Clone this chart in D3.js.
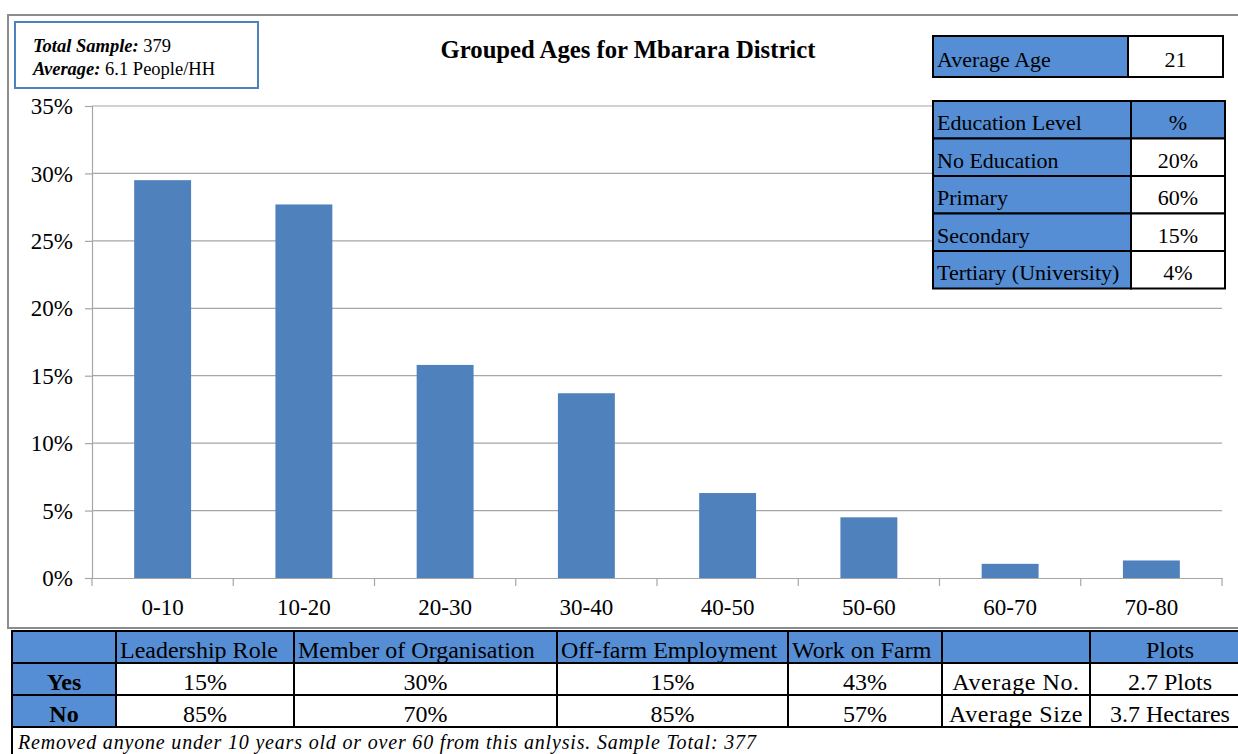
<!DOCTYPE html>
<html><head><meta charset="utf-8">
<script src="https://cdn.jsdelivr.net/npm/d3@7"></script>
<style>
html,body{margin:0;padding:0;background:#fff;}
svg text{font-family:"Liberation Serif","Times New Roman",serif;fill:#000;}
</style></head>
<body><svg id="c" width="1238" height="754"></svg>
<script>
// ---- data ----
const ageGroups = ["0-10","10-20","20-30","30-40","40-50","50-60","60-70","70-80"];
const agePercents = [29.5, 27.7, 15.8, 13.7, 6.3, 4.5, 1.05, 1.3];
const yTicks = [0,5,10,15,20,25,30,35];
const title = "Grouped Ages for Mbarara District";
const sampleInfo = [["Total Sample:", " 379"], ["Average:", " 6.1 People/HH"]];
const averageAge = ["Average Age", "21"];
const educationHeader = ["Education Level", "%"];
const educationLevels = ["No Education","Primary","Secondary","Tertiary (University)"];
const educationPercents = ["20%","60%","15%","4%"];
const tableHeaders = ["", "Leadership Role", "Member of Organisation", "Off-farm Employment", "Work on Farm", "", "Plots"];
const yesRow = ["Yes","15%","30%","15%","43%","Average No.","2.7 Plots"];
const noRow = ["No","85%","70%","85%","57%","Average Size","3.7 Hectares"];
const footnote = "Removed anyone under 10 years old or over 60 from this anlysis. Sample Total: 377";

const BLUE = "#558ED5", BAR = "#4F81BD", GRID = "#A6A6A6";
const FONT = "Liberation Serif";
const svg = d3.select("#c");

// chart frame
svg.append("rect").attr("x",8).attr("y",15).attr("width",1240).attr("height",613)
  .attr("fill","#fff").attr("stroke","#8C8C8C").attr("stroke-width",2);

// scales
const x = d3.scaleBand().domain(ageGroups).range([92,1222]).paddingInner(0.597).paddingOuter(0.2985);
const y = d3.scaleLinear().domain([0,35]).range([578,106]);

// gridlines
svg.append("g").selectAll("line").data(yTicks.filter(d=>d>0)).join("line")
  .attr("x1",92).attr("x2",1222).attr("y1",d=>y(d)).attr("y2",d=>y(d))
  .attr("stroke",GRID).attr("stroke-width",1.2);

// bars
svg.append("g").selectAll("rect").data(agePercents).join("rect")
  .attr("x",(d,i)=>x(ageGroups[i])).attr("width",x.bandwidth())
  .attr("y",d=>y(d)).attr("height",d=>y(0)-y(d)).attr("fill",BAR);

// y axis
const yAxis = svg.append("g").attr("transform","translate(92,0)")
  .call(d3.axisLeft(y).tickValues(yTicks).tickSize(7).tickPadding(12).tickFormat(d=>d+"%"));
yAxis.selectAll("path,line").attr("stroke",GRID).attr("stroke-width",1.2);
yAxis.selectAll("text").attr("font-size",23).attr("font-family",FONT).attr("dy","0.33em");

// x axis
const xAxis = svg.append("g").attr("transform","translate(0,578)")
  .call(d3.axisBottom(x).tickSize(0).tickPadding(21));
xAxis.select("path").attr("stroke",GRID).attr("stroke-width",1.2);
xAxis.selectAll("text").attr("font-size",23).attr("font-family",FONT);
// boundary ticks between categories
const bounds = ageGroups.map(g=>x(g) - (x.step()-x.bandwidth())/2).concat([1222]);
svg.append("g").selectAll("line").data(bounds).join("line")
  .attr("x1",d=>d).attr("x2",d=>d).attr("y1",578).attr("y2",586)
  .attr("stroke",GRID).attr("stroke-width",1.2);

// title
svg.append("text").attr("x",628).attr("y",58).attr("text-anchor","middle")
  .attr("font-size",24.7).attr("font-weight","bold").text(title);

// sample info box
svg.append("rect").attr("x",15).attr("y",22).attr("width",243).attr("height",66)
  .attr("fill","#fff").attr("stroke",BAR).attr("stroke-width",2);
sampleInfo.forEach((r,i)=>{
  const t = svg.append("text").attr("x",33).attr("y",52+i*23).attr("font-size",18.5);
  t.append("tspan").attr("font-weight","bold").attr("font-style","italic").text(r[0]);
  t.append("tspan").text(r[1]);
});

// helper for a cell
function cell(x0,y0,w,h,fill,txt,opts){
  opts = opts||{};
  svg.append("rect").attr("x",x0).attr("y",y0).attr("width",w).attr("height",h)
    .attr("fill",fill).attr("stroke","#000").attr("stroke-width",2);
  if(txt){
    const anchor = opts.align||"middle";
    const tx = anchor==="start" ? x0+4 : x0+w/2;
    svg.append("text").attr("x",tx).attr("y",y0+h/2+(opts.base||10.5))
      .attr("text-anchor",anchor).attr("font-size",opts.size||22)
      .attr("letter-spacing",opts.ls||0)
      .attr("font-weight",opts.bold?"bold":"normal")
      .text(txt);
  }
}

// average age table
cell(933,36,195,41,BLUE,averageAge[0],{align:"start"});
cell(1128,36,95,41,"#fff",averageAge[1]);

// education table
const eL=933, eS=1131, eR=1225, eT=101, eH=37.5;
cell(eL,eT,eS-eL,eH,BLUE,educationHeader[0],{align:"start"});
cell(eS,eT,eR-eS,eH,BLUE,educationHeader[1]);
educationLevels.forEach((lv,i)=>{
  cell(eL,eT+eH*(i+1),eS-eL,eH,BLUE,lv,{align:"start"});
  cell(eS,eT+eH*(i+1),eR-eS,eH,"#fff",educationPercents[i]);
});

// bottom table
const cols = [12,116,294,557,788,942,1090,1250];
const rowsY = [631,663,695,727];
tableHeaders.forEach((h,i)=>{
  cell(cols[i],rowsY[0],cols[i+1]-cols[i],rowsY[1]-rowsY[0],BLUE,h,
    {align:(i===6?"middle":"start"),size:24,base:11});
});
[yesRow,noRow].forEach((row,r)=>{
  row.forEach((v,i)=>{
    cell(cols[i],rowsY[r+1],cols[i+1]-cols[i],rowsY[r+2]-rowsY[r+1],i===0?BLUE:"#fff",v,
      {bold:i===0,size:24,base:10.5,ls:(i===5?0.6:0)});
  });
});
svg.append("rect").attr("x",12).attr("y",727).attr("width",1240).attr("height",40)
  .attr("fill","#fff").attr("stroke","#000").attr("stroke-width",2);
svg.append("text").attr("x",18).attr("y",749).attr("font-size",20).attr("font-style","italic")
  .attr("letter-spacing",0.82).text(footnote);
</script></body></html>
